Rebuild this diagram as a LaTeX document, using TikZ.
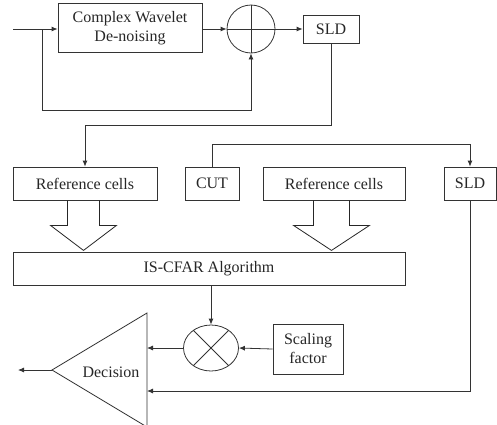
\documentclass[tikz,border=0pt]{standalone}
\usepackage{fontspec}
\setmainfont{Liberation Serif}
\usetikzlibrary{arrows.meta,calc,shapes.geometric}
\begin{document}
\begin{tikzpicture}[x=1pt,y=-1pt,
  every node/.style={text=black!85},
  line/.style={draw=black!80, line width=0.8pt},
  arr/.style={line, -{Latex[length=6pt,width=5pt]}},
  box/.style={line, rectangle, inner sep=0pt, align=center,
    font=\fontsize{16}{19}\selectfont},
  hollow/.style={draw=black!85, line width=0.8pt, line join=miter}]
\useasboundingbox (0,0) rectangle (497,424);
% top row
\node[box, minimum width=144pt, minimum height=49pt] (cw) at (130,28) {Complex Wavelet\\De-noising};
\node[line, circle, minimum size=48pt, inner sep=0pt] (sum) at (251,29) {};
\draw[line] (sum.north) -- (sum.south) (sum.west) -- (sum.east);
\node[box, minimum width=56pt, minimum height=28pt] (sld1) at (331,29) {SLD};
\coordinate (in) at (13,29);
\coordinate (fb) at (42,29);
\coordinate (fbc) at (251,110);
\draw[arr] (in) -- (in -| cw.west);
\draw[arr] (fb) |- (fbc) -- (sum.south);
\draw[arr] (cw.east |- sum.west) -- (sum.west);
\draw[arr] (sum.east) -- (sld1.west);
% middle row
\node[box, minimum width=144pt, minimum height=33pt] (ref1) at (85,183.5) {Reference cells};
\node[box, minimum width=54pt, minimum height=33pt] (cut) at (212,183.5) {CUT};
\node[box, minimum width=142pt, minimum height=33pt] (ref2) at (334,183.5) {Reference cells};
\node[box, minimum width=52pt, minimum height=33pt] (sld2) at (470,183.5) {SLD};
\draw[arr] (sld1.south) -- ++(0,82) -| (ref1.north);
\draw[arr] (cut.north) -- ++(0,-22) -| (sld2.north);
% hollow arrows
\draw[hollow] ($(ref1.south)+(-1.5,0)$) ++(-16,0) -- ++(0,25) -- ++(-17,0) -- ++(33,25) -- ++(33,-25) -- ++(-17,0) -- ++(0,-25);
\draw[hollow] ($(ref2.south)+(-2.5,0)$) ++(-18,0) -- ++(0,25) -- ++(-20,0) -- ++(38,25) -- ++(38,-25) -- ++(-20,0) -- ++(0,-25);
\node[box, minimum width=392pt, minimum height=33pt] (cfar) at (209,268.5) {IS-CFAR Algorithm};
% bottom
\node[line, ellipse, minimum width=55pt, minimum height=46pt, inner sep=0pt] (mult) at (211,348) {};
\draw[line] (mult.45) -- (mult.225) (mult.135) -- (mult.315);
\node[box, minimum width=70pt, minimum height=50pt] (scale) at (308,349) {Scaling\\factor};
\coordinate (tritop) at (147,313);
\coordinate (tribot) at (147,427);
\coordinate (tritip) at (52,370);
\draw[line, line join=miter] (tritop) -- (tritip) -- (tribot) -- cycle;
\node[font=\fontsize{16}{19}\selectfont] (dec) at (111,372) {Decision};
\coordinate (out) at (18,370);
\draw[arr] (mult.north |- cfar.south) -- (mult.north);
\draw[arr] (scale.west) -- (mult.east);
\draw[arr] (mult.west) -- (mult.west -| tritop);
\draw[arr] (tritip) -- (out);
\coordinate (in2) at (147,391);
\draw[arr] (sld2.south) |- (in2);
\end{tikzpicture}
\end{document}
